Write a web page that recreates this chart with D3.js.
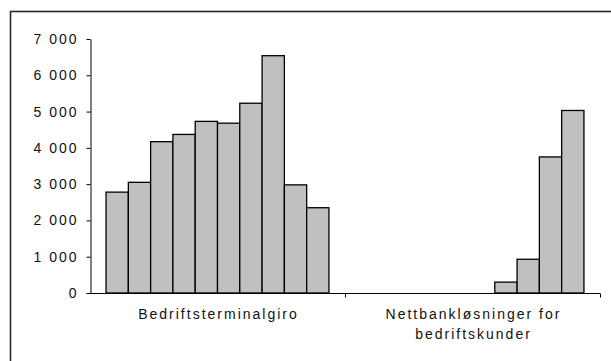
<!DOCTYPE html>
<html>
<head>
<meta charset="utf-8">
<script src="https://cdn.jsdelivr.net/npm/d3@7"></script>
<style>
  body { margin: 0; background: #fff; }
  svg { display: block; }
  text { font-family: "Liberation Sans", Arial, sans-serif; fill: #111; }
</style>
</head>
<body>
<svg></svg>
<script>
// data
var categories = ["Bedriftsterminalgiro", "Nettbankløsninger for bedriftskunder"];
var labelLines = [["Bedriftsterminalgiro"], ["Nettbankløsninger for", "bedriftskunder"]];
var series = ["s1", "s2", "s3", "s4", "s5", "s6", "s7", "s8", "s9", "s10"];
var terminalgiro = [2780, 3050, 4170, 4370, 4730, 4680, 5230, 6540, 2980, 2350];
var nettbank = [null, null, null, null, null, null, 300, 930, 3750, 5030];
var yTicks = [0, 1000, 2000, 3000, 4000, 5000, 6000, 7000];

var width = 611;
var height = 361;
var values = [terminalgiro, nettbank];

var svg = d3.select("svg")
  .attr("width", width)
  .attr("height", height);

// outer frame
svg.append("rect")
  .attr("x", 10.5)
  .attr("y", 11.5)
  .attr("width", 640)
  .attr("height", 400)
  .attr("fill", "none")
  .attr("stroke", "#2a2a2a")
  .attr("stroke-width", 1.6);

var x0 = d3.scaleBand()
  .domain(categories)
  .range([90, 600])
  .padding(0);

var x1 = d3.scaleBand()
  .domain(series)
  .range([0, x0.bandwidth()])
  .paddingInner(0)
  .paddingOuter(0.72);

var y = d3.scaleLinear()
  .domain([0, 7000])
  .range([293, 39]);

// y axis
var yAxis = svg.append("g")
  .attr("transform", "translate(90.5,0)")
  .call(d3.axisLeft(y)
    .tickValues(yTicks)
    .tickSize(4)
    .tickSizeOuter(0)
    .tickPadding(8)
    .tickFormat(d => d3.format(",")(d).replace(",", " ")));
yAxis.selectAll("path, line").attr("stroke", "#000");
yAxis.selectAll("text")
  .style("font-size", "14px")
  .style("letter-spacing", "2px")
  .attr("fill", "#111");

// bars
var rows = [];
categories.forEach((c, ci) => {
  series.forEach((s, si) => {
    if (values[ci][si] !== null) rows.push({cat: c, ser: s, val: values[ci][si]});
  });
});

svg.append("g")
  .selectAll("rect")
  .data(rows)
  .join("rect")
  .attr("x", d => x0(d.cat) + x1(d.ser))
  .attr("y", d => y(d.val))
  .attr("width", x1.bandwidth())
  .attr("height", d => y(0) - y(d.val))
  .attr("fill", "#c0c0c0")
  .attr("stroke", "#000")
  .attr("stroke-width", 1.3);

// x axis
var xAxis = svg.append("g")
  .attr("transform", "translate(0,293.5)");
xAxis.append("line")
  .attr("x1", x0.range()[0])
  .attr("x2", x0.range()[1])
  .attr("stroke", "#000");
xAxis.selectAll(".tick")
  .data(categories)
  .join("line")
  .attr("x1", d => x0(d) + x0.bandwidth() + 0.5)
  .attr("x2", d => x0(d) + x0.bandwidth() + 0.5)
  .attr("y1", 0)
  .attr("y2", 4)
  .attr("stroke", "#000");

categories.forEach((c, ci) => {
  var t = svg.append("text")
    .attr("x", x0(c) + x0.bandwidth() / 2 + 1)
    .attr("y", 319)
    .style("font-size", "14px")
    .style("letter-spacing", "2px")
    .style("text-anchor", "middle");
  labelLines[ci].forEach((line, li) => {
    t.append("tspan")
      .attr("x", x0(c) + x0.bandwidth() / 2 + 1)
      .attr("dy", li === 0 ? 0 : 20)
      .text(line);
  });
});
</script>
</body>
</html>
